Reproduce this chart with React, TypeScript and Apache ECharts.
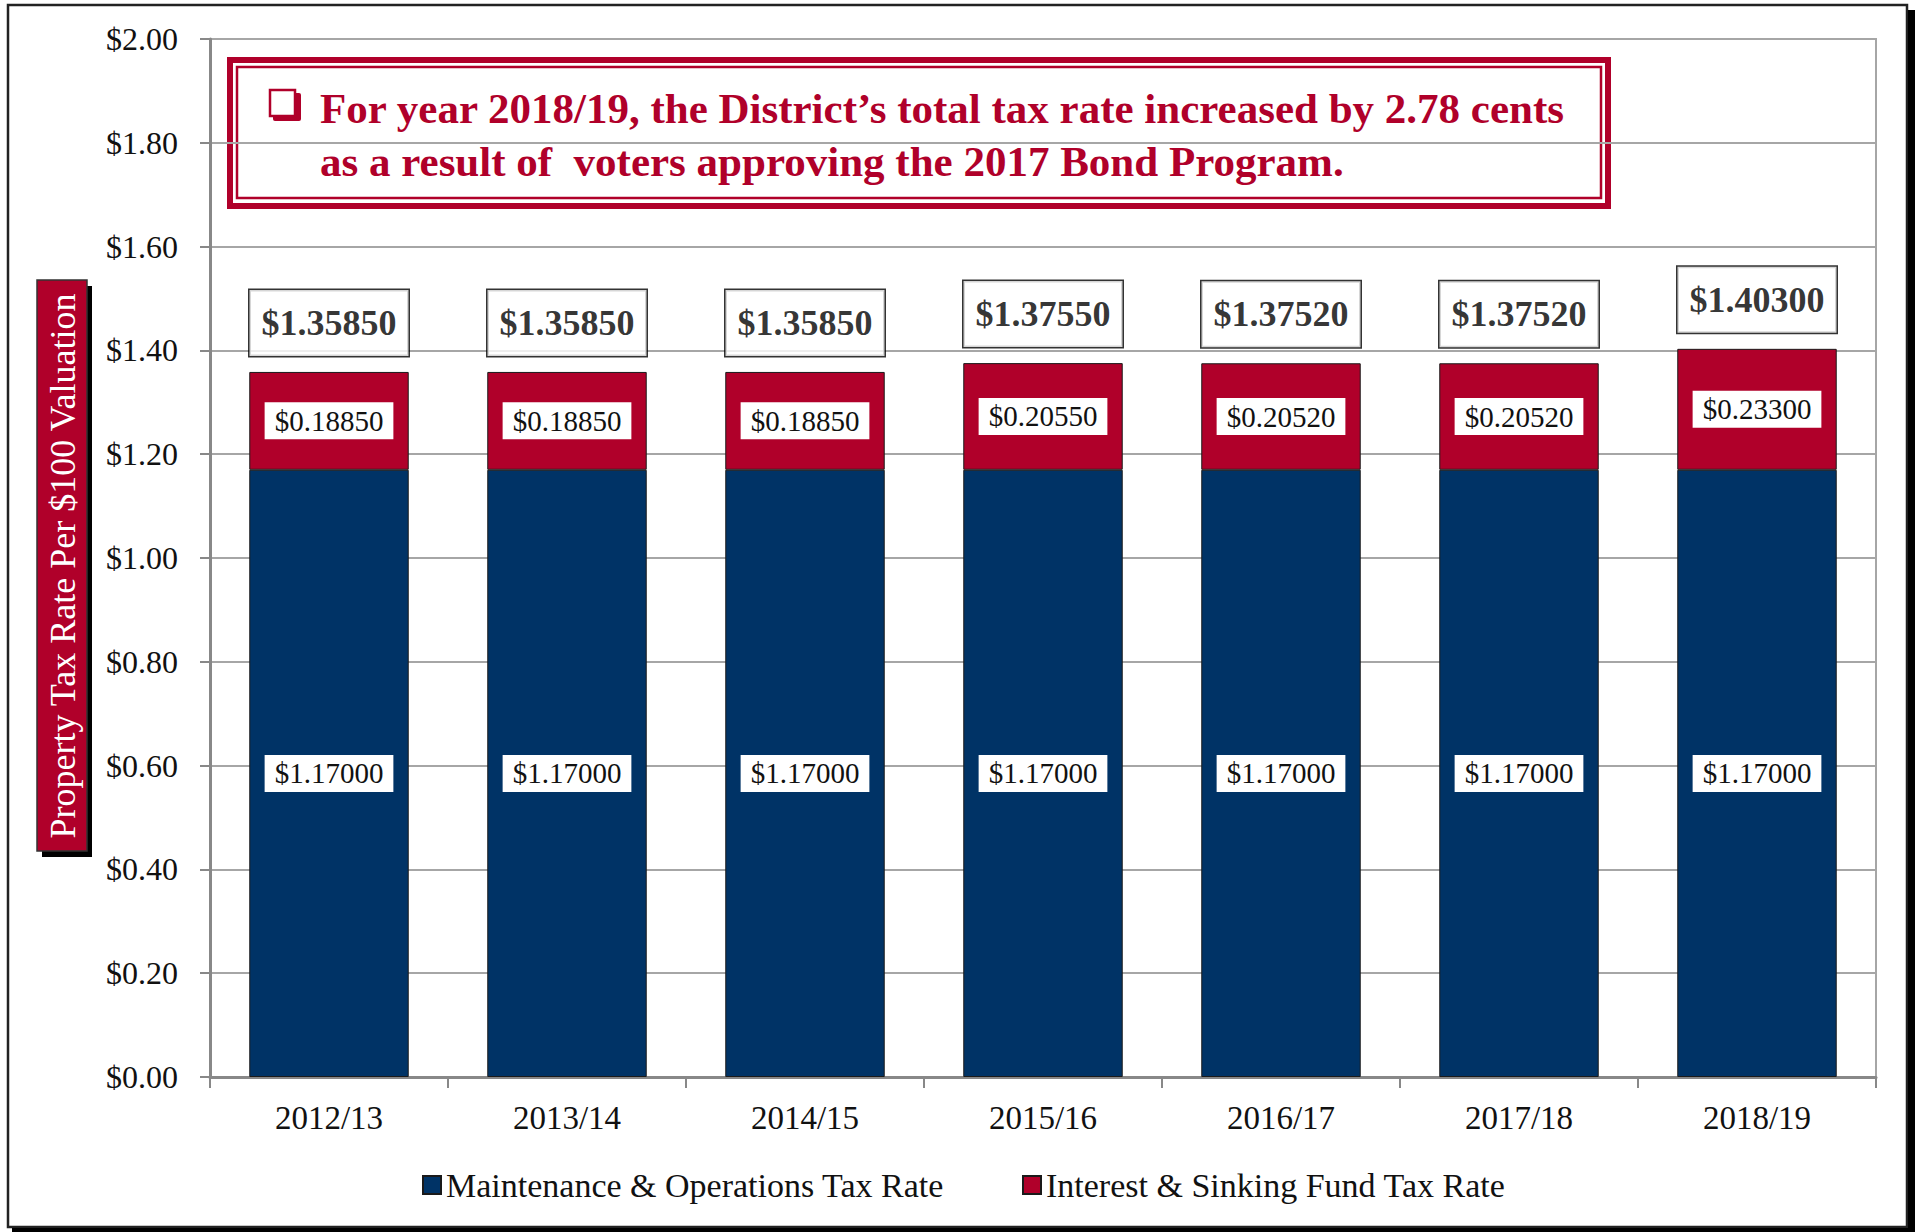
import React, { useEffect, useRef } from "react";
import * as echarts from "echarts";

const categories = ["2012/13", "2013/14", "2014/15", "2015/16", "2016/17", "2017/18", "2018/19"];
const moRates = [1.17, 1.17, 1.17, 1.17, 1.17, 1.17, 1.17];
const isRates = [0.1885, 0.1885, 0.1885, 0.2055, 0.2052, 0.2052, 0.233];
const seriesNames = ["Maintenance & Operations Tax Rate", "Interest & Sinking Fund Tax Rate"];
const noteLines = [
  "For year 2018/19, the District\u2019s total tax rate increased by 2.78 cents",
  "as a result of  voters approving the 2017 Bond Program.",
];
const yTitle = "Property Tax Rate Per $100 Valuation";

const NAVY = "#003366";
const RED = "#B0002A";
const SERIF = "'Liberation Serif', 'Times New Roman', serif";

export default function App() {
  const ref = useRef<HTMLDivElement>(null);
  useEffect(() => {
    document.body.style.margin = "0";
    const chart = echarts.init(ref.current!, null, { renderer: "svg" });
    const totals = moRates.map((v, i) => Math.round((v + isRates[i]) * 100000) / 100000);
    const fmt = (v: number) => "$" + v.toFixed(5);
    const segLabel = {
      show: true,
      position: "inside",
      formatter: (p: any) => fmt(p.value),
      fontFamily: SERIF,
      fontSize: 29,
      lineHeight: 29,
      color: "#111",
      backgroundColor: "#fff",
      padding: [4, 10, 4, 10],
    };
    chart.setOption({
      animation: false,
      grid: {
        left: 210,
        right: 39,
        top: 39,
        bottom: 155,
        show: true,
        borderColor: "#A6A6A6",
        borderWidth: 2,
      },
      legend: {
        data: seriesNames,
        left: 417,
        top: 1163,
        icon: "rect",
        itemWidth: 18,
        itemHeight: 18,
        itemGap: 78,
        textStyle: { fontFamily: SERIF, fontSize: 34, color: "#111" },
      },
      xAxis: {
        type: "category",
        data: categories,
        axisLine: { lineStyle: { color: "#888", width: 3 } },
        axisTick: { show: true, length: 11, lineStyle: { color: "#888", width: 2 } },
        axisLabel: { margin: 24, fontFamily: SERIF, fontSize: 33, color: "#111" },
      },
      yAxis: {
        type: "value",
        min: 0,
        max: 2,
        interval: 0.2,
        axisLine: { show: true, lineStyle: { color: "#888", width: 3 } },
        axisTick: { show: true, length: 10, lineStyle: { color: "#888", width: 2 } },
        splitLine: { lineStyle: { color: "#A6A6A6", width: 2 } },
        axisLabel: {
          margin: 32,
          fontFamily: SERIF,
          fontSize: 32,
          color: "#111",
          formatter: (v: number) => "$" + v.toFixed(2),
        },
      },
      series: [
        {
          name: seriesNames[0],
          type: "bar",
          stack: "total",
          data: moRates,
          barWidth: "67%",
          itemStyle: { color: NAVY, borderColor: "#1a1a1a", borderWidth: 1 },
          label: segLabel,
        },
        {
          name: seriesNames[1],
          type: "bar",
          stack: "total",
          data: isRates,
          itemStyle: { color: RED, borderColor: "#1a1a1a", borderWidth: 1 },
          label: segLabel,
        },
        {
          name: "Total",
          type: "scatter",
          data: totals,
          symbolSize: 0,
          silent: true,
          label: {
            show: true,
            position: "top",
            distance: 16,
            formatter: (p: any) => fmt(p.value),
            fontFamily: SERIF,
            fontWeight: "bold",
            fontSize: 36,
            lineHeight: 40,
            color: "#000",
            backgroundColor: "#fff",
            borderColor: "#000",
            borderWidth: 1.5,
            padding: [13, 12, 13, 12],
          },
        },
      ],
      graphic: [
        // outer frame
        { type: "rect", shape: { x: 8, y: 5, width: 1899, height: 1222 }, style: { fill: "none", stroke: "#222", lineWidth: 2.5 }, silent: true },
        { type: "rect", shape: { x: 1908, y: 10, width: 7, height: 1222 }, style: { fill: "#000" }, silent: true },
        { type: "rect", shape: { x: 12, y: 1228, width: 1903, height: 4 }, style: { fill: "#000" }, silent: true },
        // y-axis title box
        { type: "rect", shape: { x: 42, y: 286, width: 50, height: 571 }, style: { fill: "#000" }, silent: true },
        { type: "rect", shape: { x: 37, y: 280, width: 50, height: 571 }, style: { fill: RED, stroke: "#333", lineWidth: 1.5 }, silent: true },
        {
          type: "text",
          x: 63,
          y: 566,
          rotation: Math.PI / 2,
          silent: true,
          style: { text: yTitle, fill: "#fff", font: `36px ${SERIF}`, align: "center", verticalAlign: "middle" },
        },
        // note box
        { type: "rect", shape: { x: 230, y: 60, width: 1378, height: 146 }, style: { fill: "#fff", stroke: RED, lineWidth: 6 }, silent: true },
        { type: "rect", shape: { x: 237, y: 67, width: 1364, height: 131 }, style: { fill: "none", stroke: RED, lineWidth: 2.5 }, silent: true },
        { type: "rect", shape: { x: 273, y: 93, width: 28, height: 28, r: 2 }, style: { fill: RED }, silent: true },
        { type: "rect", shape: { x: 270, y: 90, width: 25, height: 26 }, style: { fill: "#fff", stroke: RED, lineWidth: 2.5 }, silent: true },
        {
          type: "text",
          x: 320,
          y: 108,
          silent: true,
          style: { text: noteLines[0], fill: RED, font: `bold 43px ${SERIF}`, align: "left", verticalAlign: "middle" },
        },
        {
          type: "text",
          x: 320,
          y: 161,
          silent: true,
          style: { text: noteLines[1], fill: RED, font: `bold 43px ${SERIF}`, align: "left", verticalAlign: "middle" },
        },
      ],
    });
    return () => chart.dispose();
  }, []);
  return <div ref={ref} style={{ width: 1915, height: 1232 }} />;
}
